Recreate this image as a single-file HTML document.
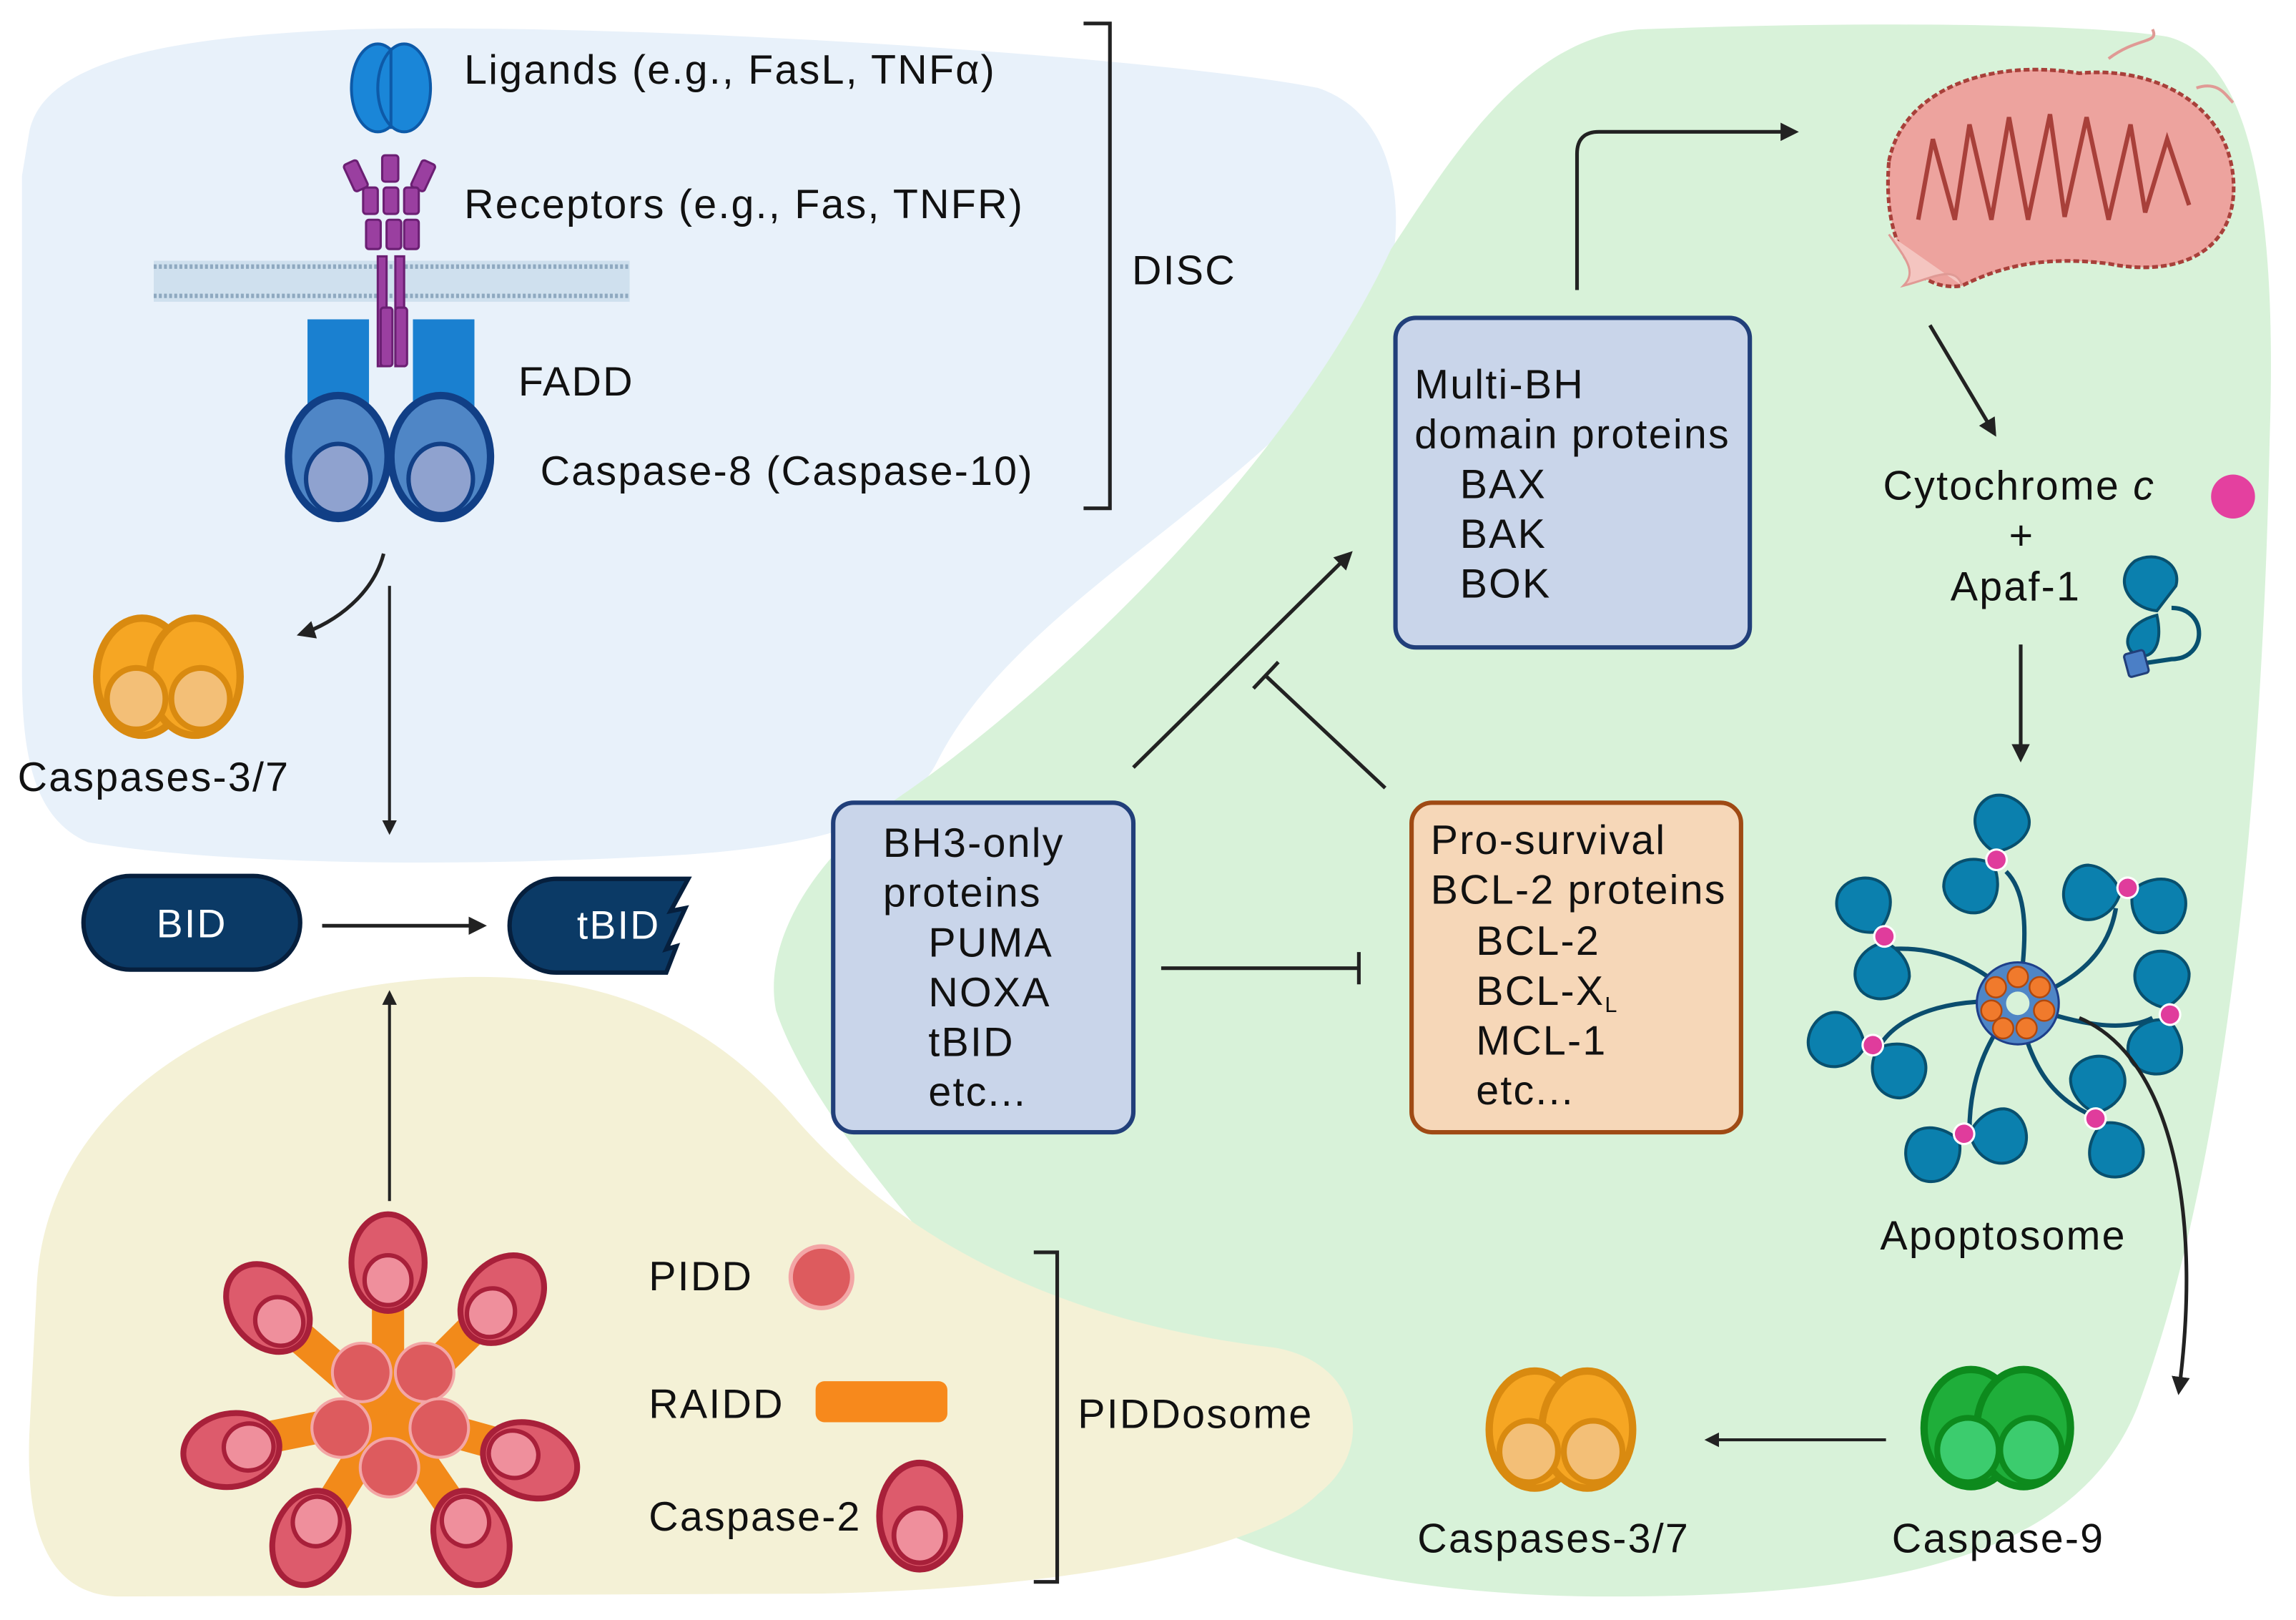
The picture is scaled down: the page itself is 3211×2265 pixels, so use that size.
<!DOCTYPE html>
<html><head><meta charset="utf-8"><style>
html,body{margin:0;padding:0;background:#fff}
svg{display:block}
text{font-family:"Liberation Sans",Arial,sans-serif;fill:#111;letter-spacing:1.1px}
</style></head><body>
<svg width="3211" height="2265" viewBox="0 0 1568 1106" xmlns="http://www.w3.org/2000/svg">
<defs>
<marker id="ah" viewBox="0 0 10 10" refX="8" refY="5" markerWidth="5" markerHeight="5" orient="auto"><path d="M0,0 L10,5 L0,10 z" fill="#222"/></marker>
<g id="casp37">
<ellipse cx="-18" cy="0" rx="31" ry="40" fill="#f6a623" stroke="#d98a10" stroke-width="5"/>
<ellipse cx="18" cy="0" rx="31" ry="40" fill="#f6a623" stroke="#d98a10" stroke-width="5"/>
<ellipse cx="-22" cy="15" rx="20" ry="21" fill="#f3bf77" stroke="#d98a10" stroke-width="4"/>
<ellipse cx="22" cy="15" rx="20" ry="21" fill="#f3bf77" stroke="#d98a10" stroke-width="4"/>
</g>
<g id="c2">
<ellipse cx="0" cy="0" rx="25" ry="33" fill="#dd5b6c" stroke="#a8203a" stroke-width="4"/>
<ellipse cx="0" cy="12" rx="16" ry="17" fill="#ef8f9c" stroke="#a8203a" stroke-width="3"/>
</g>
<g id="apaf">
<path d="M0,-4 C-18,-4 -30,-20 -22,-34 C-14,-46 8,-44 12,-30 C14,-20 8,-10 0,-4z" fill="#0b80ae" stroke="#08506f" stroke-width="2"/>
<path d="M0,4 C-18,4 -30,20 -22,34 C-14,46 8,44 12,30 C14,20 8,10 0,4z" fill="#0b80ae" stroke="#08506f" stroke-width="2" transform="translate(4,0)"/>
<circle cx="4" cy="0" r="7" fill="#e03c9c" stroke="#fff" stroke-width="1.5"/>
</g>
</defs>
<rect width="1568" height="1106" fill="#fff"/>
<path d="M20,90 C30,40 120,25 240,20 C450,15 800,40 900,60 C960,80 960,160 945,200 C900,320 700,400 640,520 C620,560 560,580 440,585 C300,592 150,590 60,575 C25,560 15,520 15,460 L15,120 Z" fill="#e8f1fa"/>
<path d="M950,170 C990,110 1040,25 1120,20 C1250,15 1420,15 1480,25 C1540,40 1555,150 1550,300 C1545,550 1520,800 1460,960 C1420,1060 1300,1090 1100,1090 C950,1090 820,1060 770,1000 C700,920 560,780 530,690 C520,640 560,580 620,540 C720,470 880,320 950,170 Z" fill="#d8f2d9"/>
<path d="M25,880 C30,760 140,690 260,672 C380,655 470,680 540,760 C600,830 700,900 870,920 C930,930 940,990 900,1020 C860,1060 720,1085 560,1088 L80,1090 C30,1088 18,1040 20,980 Z" fill="#f4f1d6"/>

<g>
<ellipse cx="258" cy="60" rx="18" ry="30" fill="#1a86d8" stroke="#0d5aa8" stroke-width="2"/>
<ellipse cx="276" cy="60" rx="18" ry="30" fill="#1a86d8" stroke="#0d5aa8" stroke-width="2"/>
<line x1="267" y1="33" x2="267" y2="88" stroke="#0d5aa8" stroke-width="2"/>
</g>
<rect x="105" y="178" width="325" height="28" fill="#cfe0ee"/>
<line x1="105" y1="182" x2="430" y2="182" stroke="#8fa9c0" stroke-width="3" stroke-dasharray="2,1.5"/>
<line x1="105" y1="202" x2="430" y2="202" stroke="#8fa9c0" stroke-width="3" stroke-dasharray="2,1.5"/>
<g fill="#9a3fa0" stroke="#6b1f73" stroke-width="1.5">
<rect x="258" y="175" width="6" height="75"/><rect x="270" y="175" width="6" height="75"/>
<rect x="261" y="106" width="11" height="18" rx="2"/>
<rect x="238" y="110" width="10" height="20" rx="2" transform="rotate(-25 243 120)"/>
<rect x="284" y="110" width="10" height="20" rx="2" transform="rotate(25 289 120)"/>
<rect x="248" y="128" width="10" height="18" rx="2"/><rect x="262" y="128" width="10" height="18" rx="2"/><rect x="276" y="128" width="10" height="18" rx="2"/>
<rect x="250" y="150" width="10" height="20" rx="2"/><rect x="264" y="150" width="10" height="20" rx="2"/><rect x="276" y="150" width="10" height="20" rx="2"/>
<rect x="260" y="210" width="8" height="40" rx="2"/><rect x="270" y="210" width="8" height="40" rx="2"/>
</g>
<rect x="210" y="218" width="42" height="70" fill="#1a80d0"/>
<rect x="282" y="218" width="42" height="70" fill="#1a80d0"/>
<g stroke="#113f86" stroke-width="5">
<ellipse cx="231" cy="312" rx="34" ry="42" fill="#4f86c6"/>
<ellipse cx="301" cy="312" rx="34" ry="42" fill="#4f86c6"/>
<ellipse cx="231" cy="327" rx="22" ry="24" fill="#8fa2cf" stroke-width="3"/>
<ellipse cx="301" cy="327" rx="22" ry="24" fill="#8fa2cf" stroke-width="3"/>
</g>
<g font-size="28">
<text x="317" y="57">Ligands (e.g., FasL, TNFα)</text>
<text x="317" y="149">Receptors (e.g., Fas, TNFR)</text>
<text x="354" y="270">FADD</text>
<text x="369" y="331">Caspase-8 (Caspase-10)</text>
<text x="773" y="194">DISC</text>
</g>
<path d="M740,16 L758,16 L758,347 L740,347" fill="none" stroke="#222" stroke-width="2.5"/>

<path d="M262,378 C255,405 230,425 205,433" fill="none" stroke="#222" stroke-width="2.5" marker-end="url(#ah)"/>
<use href="#casp37" x="115" y="462"/>
<text x="12" y="540" font-size="28">Caspases-3/7</text>
<line x1="266" y1="400" x2="266" y2="568" stroke="#222" stroke-width="2" marker-end="url(#ah)"/>

<rect x="57" y="598" width="148" height="64" rx="32" fill="#0b3a66" stroke="#061f3d" stroke-width="3"/>
<text x="131" y="640" font-size="27" text-anchor="middle" style="fill:#fff">BID</text>
<line x1="220" y1="632" x2="330" y2="632" stroke="#222" stroke-width="2.5" marker-end="url(#ah)"/>
<path d="M380,600 L470,600 L458,622 L468,620 L455,648 L462,646 L455,664 L380,664 A32,32 0 0 1 380,600 Z" fill="#0b3a66" stroke="#061f3d" stroke-width="3"/>
<text x="394" y="641" font-size="27" style="fill:#fff">tBID</text>
<line x1="266" y1="820" x2="266" y2="678" stroke="#222" stroke-width="2" marker-end="url(#ah)"/>

<g stroke="#f28a1a" stroke-width="22" stroke-linecap="butt">
<line x1="265" y1="965" x2="265" y2="870"/>
<line x1="265" y1="965" x2="335" y2="895"/>
<line x1="265" y1="965" x2="190" y2="900"/>
<line x1="265" y1="965" x2="355" y2="990"/>
<line x1="265" y1="965" x2="165" y2="985"/>
<line x1="265" y1="965" x2="215" y2="1045"/>
<line x1="265" y1="965" x2="320" y2="1045"/>
</g>
<use href="#c2" x="265" y="862"/>
<use href="#c2" x="343" y="887" transform="rotate(40 343 887)"/>
<use href="#c2" x="183" y="893" transform="rotate(-40 183 893)"/>
<use href="#c2" x="362" y="997" transform="rotate(110 362 997)"/>
<use href="#c2" x="158" y="990" transform="rotate(-100 158 990)"/>
<use href="#c2" x="212" y="1050" transform="rotate(-160 212 1050)"/>
<use href="#c2" x="322" y="1050" transform="rotate(160 322 1050)"/>
<g fill="#dd5b5e" stroke="#f3a6a6" stroke-width="2">
<circle cx="247" cy="937" r="20"/><circle cx="290" cy="937" r="20"/>
<circle cx="233" cy="975" r="20"/><circle cx="300" cy="975" r="20"/><circle cx="266" cy="1002" r="20"/>
</g>
<g font-size="28">
<text x="443" y="881">PIDD</text>
<text x="443" y="968">RAIDD</text>
<text x="443" y="1045">Caspase-2</text>
<text x="736" y="975">PIDDosome</text>
</g>
<circle cx="561" cy="872" r="21" fill="#dd5b5e" stroke="#f3a6a6" stroke-width="3"/>
<rect x="557" y="943" width="90" height="28" rx="6" fill="#f7891c"/>
<use href="#c2" x="628" y="1035" transform="scale(1.1) translate(-57 -94)"/>
<path d="M706,855 L722,855 L722,1080 L706,1080" fill="none" stroke="#222" stroke-width="2.5"/>

<rect x="569" y="548" width="205" height="225" rx="14" fill="#c9d5ea" stroke="#213f7a" stroke-width="3"/>
<g font-size="28">
<text x="603" y="585">BH3-only</text><text x="603" y="619">proteins</text>
<text x="634" y="653">PUMA</text><text x="634" y="687">NOXA</text>
<text x="634" y="721">tBID</text><text x="634" y="755">etc...</text>
</g>
<rect x="964" y="548" width="225" height="225" rx="14" fill="#f6d7b8" stroke="#9f4a14" stroke-width="3"/>
<g font-size="28">
<text x="977" y="583">Pro-survival</text><text x="977" y="617">BCL-2 proteins</text>
<text x="1008" y="652">BCL-2</text><text x="1008" y="686">BCL-X<tspan font-size="15" dy="5">L</tspan></text>
<text x="1008" y="720">MCL-1</text><text x="1008" y="754">etc...</text>
</g>
<rect x="953" y="217" width="242" height="225" rx="14" fill="#c9d5ea" stroke="#213f7a" stroke-width="3"/>
<g font-size="28">
<text x="966" y="272">Multi-BH</text><text x="966" y="306">domain proteins</text>
<text x="997" y="340">BAX</text><text x="997" y="374">BAK</text><text x="997" y="408">BOK</text>
</g>
<line x1="774" y1="524" x2="922" y2="378" stroke="#222" stroke-width="2.5" marker-end="url(#ah)"/>
<line x1="946" y1="538" x2="864" y2="461" stroke="#222" stroke-width="2.5"/>
<line x1="856" y1="470" x2="873" y2="452" stroke="#222" stroke-width="2.5"/>
<line x1="793" y1="661" x2="928" y2="661" stroke="#222" stroke-width="2.5"/>
<line x1="928" y1="650" x2="928" y2="672" stroke="#222" stroke-width="2.5"/>
<path d="M1077,198 L1077,105 Q1077,90 1092,90 L1226,90" fill="none" stroke="#222" stroke-width="2.5" marker-end="url(#ah)"/>

<path d="M1290,110 C1300,60 1360,40 1420,50 C1470,45 1520,70 1525,120 C1530,170 1490,190 1440,180 C1400,175 1370,180 1340,195 C1310,200 1285,170 1290,110 Z" fill="#eda39e" stroke="#a8403a" stroke-width="2.5" stroke-dasharray="4,2"/>
<path d="M1310,150 L1320,95 L1335,150 L1345,85 L1360,150 L1372,80 L1385,150 L1400,78 L1410,148 L1425,80 L1440,150 L1455,85 L1465,145 L1480,95 L1495,140" fill="none" stroke="#a8403a" stroke-width="3"/>
<path d="M1290,160 C1300,175 1310,185 1300,195 C1320,190 1335,180 1340,195" fill="#f4c5c0" stroke="#e09a95" stroke-width="1.5"/>
<path d="M1440,40 C1460,25 1475,30 1470,20 M1500,60 C1515,55 1520,65 1525,70" fill="none" stroke="#e09a95" stroke-width="2"/>
<line x1="1318" y1="222" x2="1362" y2="296" stroke="#222" stroke-width="2.5" marker-end="url(#ah)"/>
<g font-size="28">
<text x="1286" y="341">Cytochrome <tspan font-style="italic">c</tspan></text>
<text x="1372" y="375">+</text>
<text x="1332" y="410">Apaf-1</text>
<text x="1284" y="853">Apoptosome</text>
<text x="968" y="1060">Caspases-3/7</text>
<text x="1292" y="1060">Caspase-9</text>
</g>
<circle cx="1525" cy="339" r="15" fill="#e4409f"/>
<g transform="translate(1478,425)">
<path d="M-5,-8 C-25,-10 -35,-30 -20,-42 C-5,-50 12,-40 8,-25 Z" fill="#0b80ae" stroke="#08506f" stroke-width="2"/>
<path d="M-5,-5 C-25,0 -30,15 -20,22 C-10,26 0,18 -5,-5 Z" fill="#0b80ae" stroke="#08506f" stroke-width="2"/>
<path d="M5,-10 C30,-10 30,25 5,25 L-15,28" fill="none" stroke="#08506f" stroke-width="3"/>
<rect x="-26" y="20" width="14" height="16" rx="2" fill="#4b7fc6" stroke="#213f7a" stroke-width="1.5" transform="rotate(-15 -19 28)"/>
</g>
<line x1="1380" y1="440" x2="1380" y2="518" stroke="#222" stroke-width="2.5" marker-end="url(#ah)"/>

<g fill="none" stroke="#0b4d6e" stroke-width="3">
<path d="M1378,685 C1385,640 1385,610 1370,595"/>
<path d="M1378,685 C1420,670 1440,650 1445,620"/>
<path d="M1378,685 C1360,665 1330,645 1290,648"/>
<path d="M1378,685 C1420,700 1450,705 1470,695"/>
<path d="M1378,685 C1340,680 1300,690 1285,712"/>
<path d="M1378,685 C1355,710 1345,740 1345,772"/>
<path d="M1378,685 C1385,725 1400,750 1430,762"/>
</g>
<use href="#apaf" x="1360" y="585" transform="rotate(30 1360 585)"/>
<use href="#apaf" x="1452" y="610" transform="rotate(-75 1452 610)"/>
<use href="#apaf" x="1283" y="640" transform="rotate(-10 1283 640)"/>
<use href="#apaf" x="1478" y="692" transform="rotate(10 1478 692)"/>
<use href="#apaf" x="1277" y="717" transform="rotate(-60 1277 717)"/>
<use href="#apaf" x="1342" y="778" transform="rotate(-100 1342 778)"/>
<use href="#apaf" x="1435" y="763" transform="rotate(170 1435 763)"/>
<g>
<circle cx="1378" cy="685" r="28" fill="#4f86c6" stroke="#1e3f8a" stroke-width="1.5"/>
<g fill="#f07a2c" stroke="#b0480d" stroke-width="1.2">
<circle cx="1378" cy="667" r="7"/><circle cx="1393" cy="674" r="7"/><circle cx="1396" cy="690" r="7"/>
<circle cx="1384" cy="702" r="7"/><circle cx="1368" cy="702" r="7"/><circle cx="1360" cy="690" r="7"/><circle cx="1363" cy="674" r="7"/>
</g>
<circle cx="1378" cy="685" r="8" fill="#d8f2d9"/>
</g>
<path d="M1420,695 C1480,720 1505,820 1488,950" fill="none" stroke="#222" stroke-width="2.5" marker-end="url(#ah)"/>

<g>
<ellipse cx="1346" cy="975" rx="32" ry="40" fill="#1fae3a" stroke="#0d8a1d" stroke-width="5"/>
<ellipse cx="1382" cy="975" rx="32" ry="40" fill="#1fae3a" stroke="#0d8a1d" stroke-width="5"/>
<ellipse cx="1344" cy="990" rx="21" ry="22" fill="#3ccc6e" stroke="#0d8a1d" stroke-width="4"/>
<ellipse cx="1387" cy="990" rx="21" ry="22" fill="#3ccc6e" stroke="#0d8a1d" stroke-width="4"/>
</g>
<line x1="1288" y1="983" x2="1166" y2="983" stroke="#222" stroke-width="2" marker-end="url(#ah)"/>
<use href="#casp37" x="1066" y="976"/>
</svg>
</body></html>
